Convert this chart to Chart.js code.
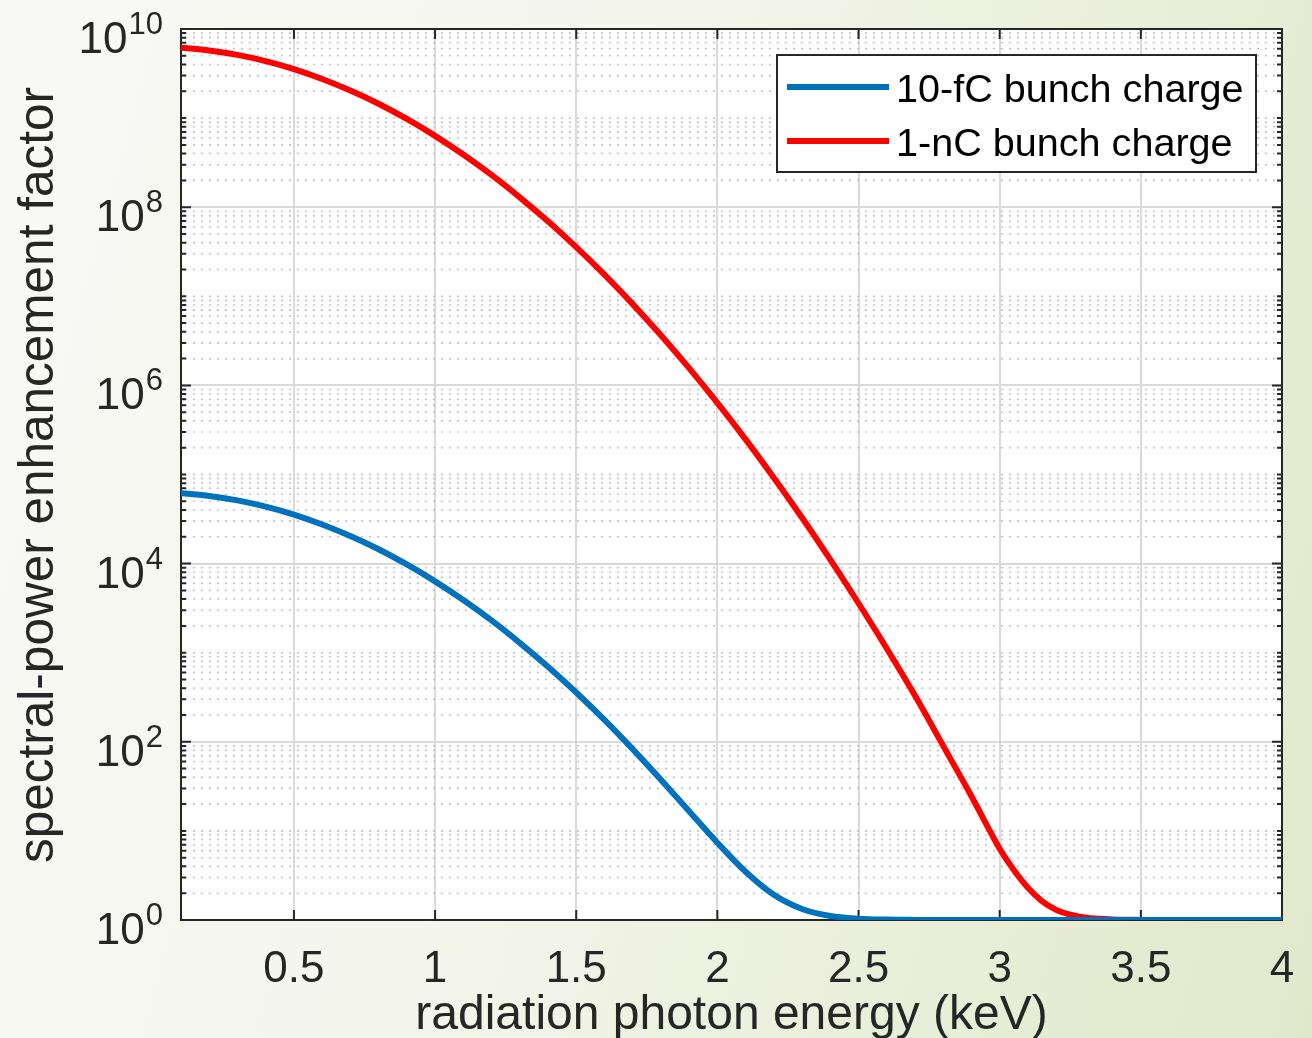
<!DOCTYPE html>
<html>
<head>
<meta charset="utf-8">
<script src="https://cdn.jsdelivr.net/npm/chart.js@4.4.1/dist/chart.umd.min.js"></script>
<style>
  html, body { margin: 0; padding: 0; overflow: hidden; }
  body {
    width: 1312px; height: 1038px;
    background: linear-gradient(105deg, #f9f9f6 0%, #f4f6ec 40%, #e9eed8 75%, #e1e8ca 100%);
  }
  #wrap { position: absolute; left: 0; top: 0; width: 1312px; height: 1038px; }
</style>
</head>
<body>
<div id="wrap"><canvas id="c"></canvas></div>
<script>
// ---- data ----
const energyKeV = [0.1,0.2,0.3,0.4,0.5,0.6,0.7,0.8,0.9,1.0,
                   1.1,1.2,1.3,1.4,1.5,1.6,1.7,1.8,1.9,2.0,
                   2.1,2.2,2.3,2.4,2.5,2.6,2.7,2.8,2.9,2.95,3.0,
                   3.05,3.1,3.15,3.2,3.25,3.3,3.35,3.4,3.5,3.6,3.7,3.8,3.9,4.0];
const charge10fC = [6.16e4,5.75e4,5.12e4,4.36e4,3.55e4,2.75e4,2.04e4,1.45e4,9780,6320,
                    3900,2300,1290,695,357,176,82.7,37.5,16.6,7.36,
                    3.48,1.92,1.33,1.11,1.036,1.011,1.003,1,1,1,1,
                    1,1,1,1,1,1,1,1,1,1,1,1,1,1];
const charge1nC = [6.16e9,5.75e9,5.12e9,4.36e9,3.55e9,2.75e9,2.04e9,1.45e9,9.78e8,6.32e8,
                   3.90e8,2.30e8,1.29e8,6.94e7,3.56e7,1.75e7,8.17e6,3.65e6,1.56e6,6.36e5,
                   2.48e5,9.2e4,3.27e4,1.11e4,3590,1115,330,90,24.5,12.3,6.3,
                   3.63,2.3,1.63,1.3,1.148,1.07,1.033,1.015,1.003,1,1,1,1,1];
const seriesLabels = ['10-fC bunch charge', '1-nC bunch charge'];
const seriesColors = ['#0072BD', '#FF0000'];
const xTickValues = [0.5,1,1.5,2,2.5,3,3.5,4];
const yTickExponents = [0,2,4,6,8,10];
const xTitle = 'radiation photon energy (keV)';
const yTitle = 'spectral-power enhancement factor';

const FONT = '"Liberation Sans", Arial, Helvetica, sans-serif';
const TXT = '#262626';

const toPts = (ys) => energyKeV.map((x, i) => ({x: x, y: ys[i]}));

const mplPlugin = {
  id: 'mpl',
  beforeDraw(chart) {
    const {ctx, chartArea: a} = chart;
    ctx.save();
    ctx.fillStyle = '#ffffff';
    ctx.fillRect(a.left, a.top, a.right - a.left, a.bottom - a.top);
    ctx.restore();
  },
  beforeDatasetsDraw(chart) {
    const {ctx, chartArea: a, scales} = chart;
    const ys = scales.y, xs = scales.x;
    ctx.save();
    // minor dotted grid
    ctx.strokeStyle = '#c4c4c4';
    ctx.lineWidth = 1.6;
    ctx.setLineDash([2, 6]);
    for (let k = 0; k < 10; k++) {
      for (let m = 1; m <= 9; m++) {
        if (m === 1 && k % 2 === 0) continue;
        const py = ys.getPixelForValue(m * Math.pow(10, k));
        ctx.beginPath();
        ctx.moveTo(a.left + 4, py);
        ctx.lineTo(a.right, py);
        ctx.stroke();
      }
    }
    ctx.setLineDash([]);
    // ticks
    ctx.strokeStyle = TXT;
    ctx.lineWidth = 2;
    ctx.beginPath();
    xTickValues.forEach(v => {
      const px = xs.getPixelForValue(v);
      ctx.moveTo(px, a.bottom); ctx.lineTo(px, a.bottom - 10);
      ctx.moveTo(px, a.top); ctx.lineTo(px, a.top + 10);
    });
    for (let k = 0; k <= 10; k++) {
      for (let m = 1; m <= 9; m++) {
        if (k === 10 && m > 1) break;
        const v = m * Math.pow(10, k);
        const py = ys.getPixelForValue(v);
        const len = (m === 1 && k % 2 === 0) ? 10 : 5;
        ctx.moveTo(a.left, py); ctx.lineTo(a.left + len, py);
        ctx.moveTo(a.right, py); ctx.lineTo(a.right - len, py);
      }
    }
    ctx.stroke();
    // box
    ctx.strokeRect(a.left, a.top, a.right - a.left, a.bottom - a.top);
    ctx.restore();
  },
  afterDraw(chart) {
    const {ctx, chartArea: a, scales} = chart;
    const ys = scales.y, xs = scales.x;
    ctx.save();
    ctx.fillStyle = TXT;
    // x tick labels
    ctx.font = '44px ' + FONT;
    ctx.textAlign = 'center';
    ctx.textBaseline = 'alphabetic';
    xTickValues.forEach(v => {
      ctx.fillText(String(v), xs.getPixelForValue(v), a.bottom + 62);
    });
    // y tick labels 10^n
    yTickExponents.forEach(e => {
      const py = ys.getPixelForValue(Math.pow(10, e));
      const right = a.left - 18;
      ctx.font = '31px ' + FONT;
      ctx.textAlign = 'right';
      const ew = ctx.measureText(String(e)).width;
      ctx.fillText(String(e), right, py + 5);
      ctx.font = '44px ' + FONT;
      ctx.fillText('10', right - ew - 1, py + 24);
    });
    // axis titles
    ctx.font = '48px ' + FONT;
    ctx.textAlign = 'center';
    ctx.fillText(xTitle, (a.left + a.right) / 2, 1029);
    ctx.save();
    ctx.font = '49.5px ' + FONT;
    ctx.translate(53, 475);
    ctx.rotate(-Math.PI / 2);
    ctx.fillText(yTitle, 0, 0);
    ctx.restore();
    // legend
    const lx = 777, ly = 55, lw = 479, lh = 117;
    ctx.fillStyle = '#ffffff';
    ctx.fillRect(lx, ly, lw, lh);
    ctx.strokeStyle = TXT;
    ctx.lineWidth = 2;
    ctx.strokeRect(lx, ly, lw, lh);
    const rowsY = [87, 141];
    chart.data.datasets.forEach((ds, i) => {
      ctx.strokeStyle = ds.borderColor;
      ctx.lineWidth = 6;
      ctx.beginPath();
      ctx.moveTo(787, rowsY[i]);
      ctx.lineTo(889, rowsY[i]);
      ctx.stroke();
      ctx.fillStyle = '#000000';
      ctx.font = '39.6px ' + FONT;
      ctx.textAlign = 'left';
      ctx.fillText(ds.label, 896, rowsY[i] + 15);
    });
    ctx.restore();
  }
};

new Chart(document.getElementById('c'), {
  type: 'line',
  data: {
    datasets: [
      { label: seriesLabels[0], data: toPts(charge10fC), borderColor: seriesColors[0], borderWidth: 6,
        pointRadius: 0, cubicInterpolationMode: 'monotone', fill: false },
      { label: seriesLabels[1], data: toPts(charge1nC), borderColor: seriesColors[1], borderWidth: 6,
        pointRadius: 0, cubicInterpolationMode: 'monotone', fill: false }
    ]
  },
  options: {
    responsive: true,
    maintainAspectRatio: false,
    animation: false,
    layout: { padding: { left: 181, top: 29, right: 30, bottom: 118 } },
    plugins: { legend: { display: false }, tooltip: { enabled: false } },
    scales: {
      x: {
        type: 'linear', min: 0.1, max: 4,
        afterBuildTicks: (s) => { s.ticks = xTickValues.map(v => ({value: v})); },
        ticks: { display: false },
        grid: { color: '#dadada', lineWidth: 2, drawTicks: false },
        border: { display: false }
      },
      y: {
        type: 'logarithmic', min: 1, max: 1e10,
        afterBuildTicks: (s) => { s.ticks = yTickExponents.map(e => ({value: Math.pow(10, e)})); },
        ticks: { display: false },
        grid: { color: '#dadada', lineWidth: 2, drawTicks: false },
        border: { display: false }
      }
    }
  },
  plugins: [mplPlugin]
});
</script>
</body>
</html>
